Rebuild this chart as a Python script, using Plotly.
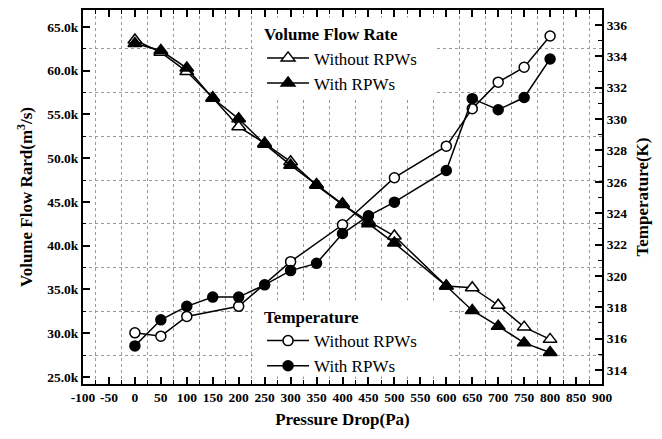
import plotly.graph_objects as go

# ---- data ----
flow_x = [0, 50, 100, 150, 200, 250, 300, 350, 400, 450, 500, 600, 650, 700, 750, 800]
flow_without = [63500, 62100, 59900, 56900, 53600, 51700, 49600, 46900, 44700, 42800, 41100, 35400, 35200, 33200, 30700, 29300]
flow_with = [63100, 62300, 60300, 56850, 54500, 51600, 49200, 47000, 44800, 42500, 40300, 35400, 32600, 30800, 28900, 27800]

temp_x_without = [0, 50, 100, 200, 300, 400, 500, 600, 650, 700, 750, 800]
temp_without = [316.37, 316.16, 317.42, 318.06, 320.91, 323.26, 326.26, 328.27, 330.66, 332.35, 333.3, 335.29]
temp_x_with = [0, 50, 100, 150, 200, 250, 300, 350, 400, 450, 500, 600, 650, 700, 750, 800]
temp_with = [315.54, 317.2, 318.06, 318.65, 318.65, 319.43, 320.34, 320.8, 322.7, 323.83, 324.7, 326.72, 331.3, 330.59, 331.37, 333.83]

x_tickvals = list(range(-100, 901, 50))
x_ticktext = [str(v) for v in x_tickvals]

FONT = "Liberation Serif"
BLK = "black"

fig = go.Figure()

fig.add_trace(go.Scatter(
    x=flow_x, y=flow_without, name="Without RPWs", mode="lines+markers",
    line=dict(color=BLK, width=1.5),
    marker=dict(symbol="triangle-up", size=12, color="white", line=dict(color=BLK, width=1.5)),
    legend="legend", yaxis="y"))
fig.add_trace(go.Scatter(
    x=flow_x, y=flow_with, name="With RPWs", mode="lines+markers",
    line=dict(color=BLK, width=1.5),
    marker=dict(symbol="triangle-up", size=12, color=BLK, line=dict(color=BLK, width=1.5)),
    legend="legend", yaxis="y"))
fig.add_trace(go.Scatter(
    x=temp_x_without, y=temp_without, name="Without RPWs", mode="lines+markers",
    line=dict(color=BLK, width=1.5),
    marker=dict(symbol="circle", size=10, color="white", line=dict(color=BLK, width=1.5)),
    legend="legend2", yaxis="y2"))
fig.add_trace(go.Scatter(
    x=temp_x_with, y=temp_with, name="With RPWs", mode="lines+markers",
    line=dict(color=BLK, width=1.5),
    marker=dict(symbol="circle", size=10, color=BLK, line=dict(color=BLK, width=1.5)),
    legend="legend2", yaxis="y2"))

tickfont = dict(family=FONT, size=13.5, color=BLK, weight="bold")
titlefont = dict(family=FONT, size=17, color=BLK, weight="bold")
grid_minor = dict(showgrid=True, gridcolor="#9a9a9a", griddash="dot", gridwidth=1)

fig.update_layout(
    width=662, height=439,
    margin=dict(l=83, r=60, t=8, b=55),
    plot_bgcolor="white", paper_bgcolor="white",
    showlegend=True,
    xaxis=dict(
        range=[-100, 900], tickmode="array", tickvals=x_tickvals, ticktext=x_ticktext,
        tickangle=0,
        ticks="inside", ticklen=7, tickwidth=1.5, tickcolor=BLK,
        showline=True, linewidth=2, linecolor=BLK, mirror="ticks",
        showgrid=False, zeroline=False,
        tickfont=tickfont,
        title=dict(text="Pressure Drop(Pa)", font=titlefont, standoff=9),
        minor=dict(tick0=-75, dtick=50, ticks="inside", ticklen=4, tickwidth=1.2, tickcolor=BLK, **grid_minor),
    ),
    yaxis=dict(
        range=[24200, 66930], tick0=0, dtick=5000, tickformat=".3s",
        ticks="inside", ticklen=7, tickwidth=1.5, tickcolor=BLK,
        showline=True, linewidth=2, linecolor=BLK,
        showgrid=False, zeroline=False,
        tickfont=tickfont,
        title=dict(text="Volume Flow Rard(m<sup>3</sup>/s)", font=titlefont, standoff=10),
        minor=dict(dtick=2500, ticks="inside", ticklen=3, tickwidth=1.2, tickcolor=BLK, **grid_minor),
    ),
    yaxis2=dict(
        overlaying="y", side="right",
        range=[313.11, 336.95], tick0=0, dtick=2,
        ticks="inside", ticklen=7, tickwidth=1.5, tickcolor=BLK,
        showline=True, linewidth=2, linecolor=BLK,
        showgrid=False, zeroline=False,
        tickfont=tickfont,
        title=dict(text="Temperature(K)", font=titlefont, standoff=10),
        minor=dict(dtick=1, ticks="inside", ticklen=4, tickwidth=1.2, tickcolor=BLK, showgrid=False),
    ),
    legend=dict(
        x=0.345, y=0.978, xanchor="left", yanchor="top",
        bgcolor="rgba(0,0,0,0)", borderwidth=0, itemwidth=42,
        font=dict(family=FONT, size=17, color=BLK),
        title=dict(text="Volume Flow Rate", font=dict(family=FONT, size=17, color=BLK, weight="bold")),
        tracegroupgap=0,
    ),
    legend2=dict(
        x=0.345, y=0.222, xanchor="left", yanchor="top",
        bgcolor="rgba(0,0,0,0)", borderwidth=0, itemwidth=42,
        font=dict(family=FONT, size=17, color=BLK),
        title=dict(text="Temperature", font=dict(family=FONT, size=17, color=BLK, weight="bold")),
        tracegroupgap=0,
    ),
    shapes=[
        dict(type="rect", xref="x", yref="y", x0=228, x1=582, y0=56800, y1=66070,
             fillcolor="white", line=dict(width=0), layer="above"),
        dict(type="rect", xref="x", yref="y", x0=228, x1=607, y0=25060, y1=33750,
             fillcolor="white", line=dict(width=0), layer="above"),
    ],
)

fig.write_html("out.html")
